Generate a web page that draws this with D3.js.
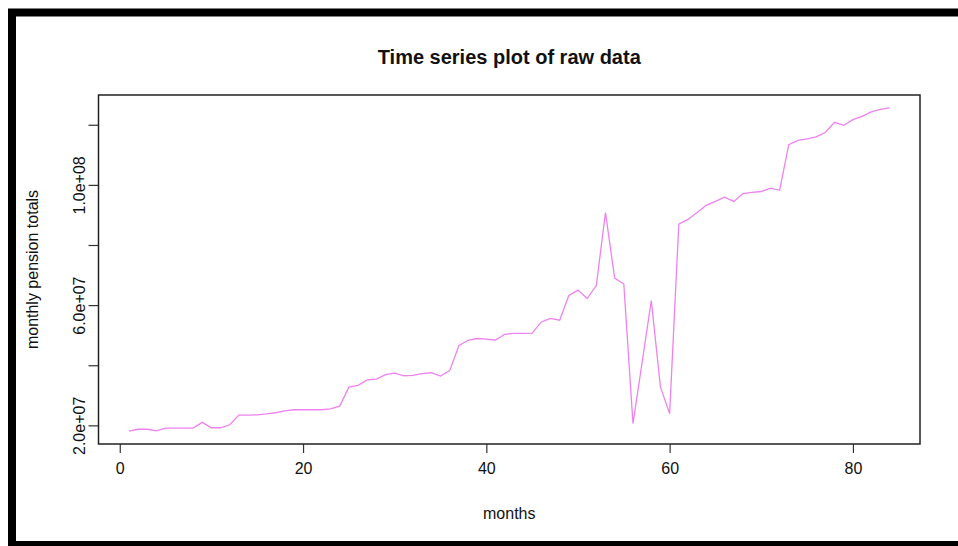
<!DOCTYPE html>
<head>
    <meta charset="utf-8">
    <title>Time series plot of raw data</title>
</head>
<style>
    body { margin: 0; background: #fff; }
    svg { display: block; font-family: "Liberation Sans", Arial, sans-serif; }
    .frame { fill: none; stroke: #000; stroke-width: 8px; }
    .box { fill: none; stroke: #222; stroke-width: 1.5px; }
    .tick line { stroke: #333; stroke-width: 1.2px; }
    .series { fill: none; stroke: violet; stroke-width: 1.3px; }
    text { fill: #111; }
</style>
<body>
<script src="https://d3js.org/d3.v7.min.js"></script>
<script>
    var width = 958,
        height = 546;

    // monthly pension totals, months 1..84
    var pension = [
        1.81e7, 1.87e7, 1.87e7, 1.82e7, 1.91e7, 1.91e7, 1.91e7, 1.91e7, 2.10e7, 1.92e7,
        1.92e7, 2.02e7, 2.34e7, 2.34e7, 2.35e7, 2.38e7, 2.42e7, 2.48e7, 2.52e7, 2.52e7,
        2.52e7, 2.52e7, 2.55e7, 2.64e7, 3.27e7, 3.33e7, 3.51e7, 3.54e7, 3.69e7, 3.74e7,
        3.65e7, 3.66e7, 3.72e7, 3.75e7, 3.64e7, 3.82e7, 4.65e7, 4.83e7, 4.89e7, 4.87e7,
        4.84e7, 5.03e7, 5.06e7, 5.06e7, 5.07e7, 5.44e7, 5.56e7, 5.50e7, 6.32e7, 6.50e7,
        6.22e7, 6.65e7, 9.08e7, 6.90e7, 6.70e7, 2.06e7, 4.10e7, 6.15e7, 3.27e7, 2.39e7,
        8.69e7, 8.85e7, 9.08e7, 9.32e7, 9.45e7, 9.59e7, 9.45e7, 9.71e7, 9.75e7, 9.78e7,
        9.89e7, 9.82e7, 11.34e7, 11.48e7, 11.53e7, 11.60e7, 11.75e7, 12.08e7, 11.98e7, 12.17e7,
        12.28e7, 12.43e7, 12.51e7, 12.56e7
    ];
    var xTicks = [0, 20, 40, 60, 80];
    var yTicks = [2e7, 4e7, 6e7, 8e7, 1e8, 1.2e8];
    var yTickLabels = {2e7: "2.0e+07", 6e7: "6.0e+07", 1e8: "1.0e+08"};

    var title = "Time series plot of raw data",
        xTitle = "months",
        yTitle = "monthly pension totals";

    var data = pension.map(function (v, i) { return {month: i + 1, value: v}; });

    var plot = {left: 98.5, right: 920, top: 95, bottom: 444};

    // R style 4% padding on both axes
    function pad(ext) {
        var d = (ext[1] - ext[0]) * 0.04;
        return [ext[0] - d, ext[1] + d];
    }

    var x = d3.scaleLinear()
        .domain(pad(d3.extent(data, function (d) { return d.month; })))
        .range([plot.left, plot.right]);
    var y = d3.scaleLinear()
        .domain(pad(d3.extent(data, function (d) { return d.value; })))
        .range([plot.bottom, plot.top]);

    var svg = d3.select("body").append("svg")
        .attr("width", width)
        .attr("height", height);

    svg.append("rect")
        .attr("width", width)
        .attr("height", height)
        .attr("fill", "#fff");

    // outer black frame (right side runs off the picture)
    svg.append("rect")
        .attr("class", "frame")
        .attr("x", 12)
        .attr("y", 12.5)
        .attr("width", 990)
        .attr("height", 532.5);

    svg.append("text")
        .attr("x", (plot.left + plot.right) / 2)
        .attr("y", 64)
        .attr("text-anchor", "middle")
        .attr("font-size", "20px")
        .attr("font-weight", "bold")
        .text(title);

    // x axis
    var xAxis = svg.append("g")
        .attr("transform", "translate(0," + plot.bottom + ")")
        .call(d3.axisBottom(x).tickValues(xTicks).tickSize(9).tickPadding(10));
    xAxis.select(".domain").remove();
    xAxis.selectAll("text")
        .attr("font-size", "16px")
        .attr("font-family", null)
        .attr("dy", "0.7em");

    // y axis
    var yAxis = svg.append("g")
        .attr("transform", "translate(" + plot.left + ",0)")
        .call(d3.axisLeft(y).tickValues(yTicks).tickSize(10)
            .tickFormat(function (d) { return yTickLabels[d] || ""; }));
    yAxis.select(".domain").remove();
    yAxis.selectAll("text")
        .attr("font-size", "16px")
        .attr("font-family", null)
        .attr("x", null)
        .attr("dy", null)
        .attr("text-anchor", "middle")
        .attr("dominant-baseline", "central")
        .attr("transform", "translate(-19,0) rotate(-90)");

    svg.append("rect")
        .attr("class", "box")
        .attr("x", plot.left)
        .attr("y", plot.top)
        .attr("width", plot.right - plot.left)
        .attr("height", plot.bottom - plot.top);

    svg.append("path")
        .datum(data)
        .attr("class", "series")
        .attr("d", d3.line()
            .x(function (d) { return x(d.month); })
            .y(function (d) { return y(d.value); }));

    svg.append("text")
        .attr("x", (plot.left + plot.right) / 2)
        .attr("y", 519)
        .attr("text-anchor", "middle")
        .attr("font-size", "16px")
        .text(xTitle);

    svg.append("text")
        .attr("transform", "translate(32," + (plot.top + plot.bottom) / 2 + ") rotate(-90)")
        .attr("text-anchor", "middle")
        .attr("dominant-baseline", "central")
        .attr("font-size", "16px")
        .text(yTitle);
</script>
</body>
